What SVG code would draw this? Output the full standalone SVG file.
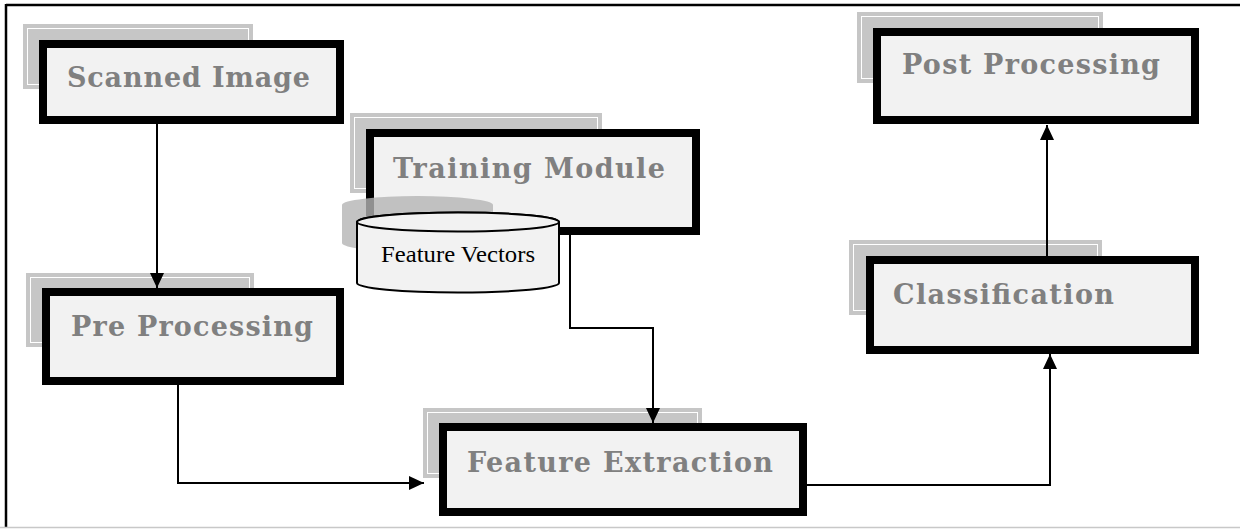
<svg xmlns="http://www.w3.org/2000/svg" width="1240" height="529" viewBox="0 0 1240 529">
<style>
.shadow{fill:#c6c6c6;}
.shline{fill:none;stroke:#ffffff;stroke-width:1;}
.box{fill:#f2f2f2;stroke:#000;stroke-width:8;}
.lbl{font-family:"DejaVu Serif","Liberation Serif",serif;font-weight:bold;font-size:27px;fill:#808080;}
.conn{fill:none;stroke:#000;stroke-width:2;}
.cyl{fill:#f2f2f2;stroke:#000;stroke-width:2;}
.cyltext{font-family:"Liberation Serif","Times New Roman",serif;font-size:23px;fill:#000;}
</style>
<defs>
<marker id="arr" markerUnits="userSpaceOnUse" markerWidth="15" markerHeight="14" refX="15" refY="7" orient="auto">
<path d="M0,0 L15,7 L0,14 z" fill="#000"/>
</marker>
</defs>
<rect x="0" y="0" width="1240" height="529" fill="#fff"/>
<g id="frame">
<line x1="6" y1="5" x2="1240" y2="5" stroke="#000" stroke-width="2.5"/>
<line x1="6" y1="4" x2="6" y2="527" stroke="#000" stroke-width="2.5"/>
<line x1="0" y1="527.5" x2="1240" y2="527.5" stroke="#c8c8c8" stroke-width="1.5"/>
</g>
<g id="scanned-image">
<rect class="shadow" x="23" y="24" width="230" height="65"/>
<rect class="shline" x="27.5" y="28.5" width="221" height="56"/>
<rect class="box" x="43" y="44" width="297" height="76"/>
<text class="lbl" x="67" y="87" textLength="243" lengthAdjust="spacing">Scanned Image</text>
</g>
<g id="pre-processing">
<rect class="shadow" x="26" y="273" width="228" height="74"/>
<rect class="shline" x="30.5" y="277.5" width="219" height="65"/>
<rect class="box" x="46" y="292" width="294" height="89"/>
<text class="lbl" x="71" y="336" textLength="242" lengthAdjust="spacing">Pre Processing</text>
</g>
<g id="training-module">
<rect class="shadow" x="350" y="113" width="252" height="80"/>
<rect class="shline" x="354.5" y="117.5" width="243" height="71"/>
<rect class="box" x="370" y="133" width="326" height="98"/>
<text class="lbl" x="393" y="178" textLength="272" lengthAdjust="spacing">Training Module</text>
</g>
<g id="feature-vectors">
<path d="M342,205 A75.5,9 0 0 1 493,205 V243 A75.5,9 0 0 1 342,243 Z" fill="#b4b4b4" fill-opacity="0.8"/>
<path class="cyl" d="M357,222 A101,9.5 0 0 1 559,222 V283 A101,9.5 0 0 1 357,283 Z"/>
<ellipse class="cyl" cx="458" cy="222" rx="101" ry="9.5"/>
<text class="cyltext" x="381" y="262" textLength="154" lengthAdjust="spacingAndGlyphs">Feature Vectors</text>
</g>
<g id="feature-extraction">
<rect class="shadow" x="423" y="408" width="279" height="70"/>
<rect class="shline" x="427.5" y="412.5" width="270" height="61"/>
<rect class="box" x="443" y="427" width="360" height="85"/>
<text class="lbl" x="467" y="472" textLength="306" lengthAdjust="spacing">Feature Extraction</text>
</g>
<g id="classification">
<rect class="shadow" x="849" y="240" width="253" height="75"/>
<rect class="shline" x="853.5" y="244.5" width="244" height="66"/>
<rect class="box" x="870" y="260" width="325" height="90"/>
<text class="lbl" x="893" y="304" textLength="221" lengthAdjust="spacing">Classification</text>
</g>
<g id="post-processing">
<rect class="shadow" x="857" y="12" width="246" height="71"/>
<rect class="shline" x="861.5" y="16.5" width="237" height="62"/>
<rect class="box" x="877" y="32" width="318" height="88"/>
<text class="lbl" x="902" y="74" textLength="258" lengthAdjust="spacing">Post Processing</text>
</g>
<g id="connectors">
<path class="conn" d="M157,124 V288" marker-end="url(#arr)"/>
<path class="conn" d="M178,385 V483 H424" marker-end="url(#arr)"/>
<path class="conn" d="M570,235 V328 H653 V423" marker-end="url(#arr)"/>
<path class="conn" d="M807,485 H1050 V354" marker-end="url(#arr)"/>
<path class="conn" d="M1047,256 V125" marker-end="url(#arr)"/>
</g>
</svg>
